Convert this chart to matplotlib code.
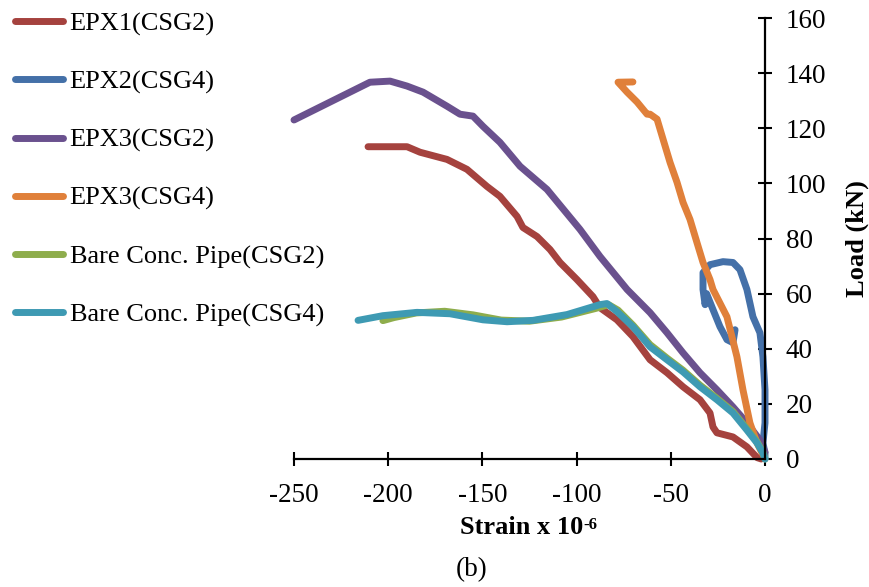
import matplotlib
matplotlib.use("Agg")
import matplotlib.pyplot as plt

plt.rcParams['font.family'] = ['Liberation Serif', 'DejaVu Serif']

# ---------------- data (strain x1e-6, load kN) ----------------
epx1_csg2_x = [-210.7, -190.0, -183.1, -168.8, -158.2, -147.6, -140.7, -131.6, -128.5, -121.0,
               -114.1, -108.8, -99.8, -91.3, -87.6, -78.6, -70.1, -61.0, -52.0, -43.5, -34.5,
               -29.2, -27.6, -25.5, -17.0, -9.6, -4.2, -2.0]
epx1_csg2_y = [113.3, 113.3, 111.3, 108.7, 105.1, 98.9, 95.3, 88.0, 84.0, 80.7,
               76.0, 71.3, 65.1, 58.9, 54.9, 50.5, 44.4, 36.0, 31.3, 26.2, 21.5,
               16.7, 11.6, 9.5, 8.0, 4.4, 0.5, 0.0]

epx2_csg4_x = [0.0, 0.0, -1.1, 0.0, 0.0, -1.1, -2.7, -6.4, -9.6, -13.3, -17.0, -22.3, -29.2,
               -32.9, -32.9, -31.8, -31.0, -27.6, -23.9, -20.2, -17.0, -15.9]
epx2_csg4_y = [0.0, 2.2, 5.8, 13.1, 25.1, 37.1, 45.8, 51.6, 61.5, 68.7, 71.3, 71.6, 70.5,
               67.6, 61.5, 56.0, 60.0, 54.2, 48.0, 43.3, 42.2, 46.9]

epx3_csg2_x = [-250.0, -209.7, -199.0, -190.0, -181.5, -168.8, -161.9, -155.0, -149.7, -140.7,
               -130.0, -115.7, -98.2, -87.6, -73.2, -61.0, -52.0, -43.5, -34.5, -25.5, -17.0,
               -9.6, -2.7, 0.0]
epx3_csg2_y = [123.0, 136.7, 137.1, 135.3, 133.1, 128.0, 125.1, 124.4, 120.7, 114.9,
               106.2, 97.8, 83.3, 73.5, 61.5, 53.1, 45.8, 38.5, 31.3, 25.1, 18.9,
               13.1, 6.9, 2.5]

epx3_csg4_x = [-70.1, -78.0, -73.2, -67.9, -62.6, -61.0, -57.3, -54.1, -50.4, -46.7, -43.5,
               -39.8, -36.1, -32.9, -29.2, -27.6, -20.2, -14.9, -11.7, -8.0, -4.2, -1.6, -0.5]
epx3_csg4_y = [136.8, 136.7, 133.1, 129.5, 125.1, 125.1, 123.3, 116.0, 107.6, 100.4, 93.1,
               86.9, 78.5, 71.3, 65.1, 61.5, 51.6, 37.1, 25.1, 13.1, 5.8, 2.2, 1.0]

bare_csg2_x = [-202.8, -197.0, -185.0, -170.0, -155.0, -140.0, -125.0, -108.0, -90.0, -83.0,
               -78.0, -70.0, -61.0, -52.0, -43.5, -34.5, -25.5, -17.0, -9.6, -4.2, -1.1, 0.0]
bare_csg2_y = [50.2, 51.3, 53.0, 53.6, 52.3, 50.4, 50.0, 51.5, 54.6, 56.0,
               54.0, 48.5, 41.5, 36.6, 32.2, 26.8, 22.0, 17.2, 11.0, 6.2, 2.4, 0.0]

bare_csg4_x = [-216.0, -202.8, -184.7, -167.2, -149.7, -136.9, -123.1, -105.1, -87.6, -83.9,
               -78.6, -70.1, -61.0, -52.0, -43.5, -34.5, -25.5, -17.0, -9.6, -4.2, -1.1, 0.0]
bare_csg4_y = [50.3, 52.0, 53.2, 52.7, 50.5, 49.8, 50.3, 52.4, 56.0, 56.4,
               53.5, 48.0, 40.7, 36.0, 31.6, 26.2, 21.5, 16.7, 10.5, 5.8, 2.2, 0.0]

series_names = ["EPX1(CSG2)", "EPX2(CSG4)", "EPX3(CSG2)", "EPX3(CSG4)",
                "Bare Conc. Pipe(CSG2)", "Bare Conc. Pipe(CSG4)"]
series_colors = ["#A5423E", "#4470A8", "#6A518E", "#E0803A", "#8EAD4C", "#3E9AB3"]

x_ticks = [-250, -200, -150, -100, -50, 0]
y_ticks = [0, 20, 40, 60, 80, 100, 120, 140, 160]

# ---------------- figure ----------------
fig = plt.figure(figsize=(8.7, 5.87), dpi=100)
ax = fig.add_axes([294/870, 1-459/587, (765-294)/870, (459-18)/587])

data = [(epx1_csg2_x, epx1_csg2_y), (epx2_csg4_x, epx2_csg4_y), (epx3_csg2_x, epx3_csg2_y),
        (epx3_csg4_x, epx3_csg4_y), (bare_csg2_x, bare_csg2_y), (bare_csg4_x, bare_csg4_y)]
for (xs, ys), name, col in zip(data, series_names, series_colors):
    ax.plot(xs, ys, color=col, lw=5, label=name, solid_capstyle='round',
            solid_joinstyle='round', clip_on=False)

ax.set_xlim(-250, 0)
ax.set_ylim(0, 160)
ax.set_xticks(x_ticks)
ax.set_yticks(y_ticks)
ax.set_xticklabels([str(v) for v in x_ticks])
ax.set_yticklabels([str(v) for v in y_ticks])

for s in ['top', 'left']:
    ax.spines[s].set_visible(False)
for s in ['right', 'bottom']:
    ax.spines[s].set_linewidth(1.6)
    ax.spines[s].set_color('black')

ax.yaxis.tick_right()
ax.yaxis.set_label_position('right')
ax.tick_params(axis='both', direction='inout', length=10, width=1.5, labelsize=19.5, colors='black')
ax.tick_params(axis='y', pad=10)
ax.tick_params(axis='x', pad=12)

ax.set_ylabel("Load (kN)", fontsize=19, fontweight='bold', labelpad=14)

t = fig.text(522/870, 1-534/587, "Strain x 10", ha='center', va='baseline',
             fontsize=19, fontweight='bold')
ax.annotate("-6", xy=(1.0, 1.0), xycoords=t, xytext=(0, -0.5), textcoords='offset points',
            ha='left', va='top', fontsize=12, fontweight='bold', annotation_clip=False)

fig.text(472/870, 1-576/587, "(b)", ha='center', va='baseline', fontsize=19.5)

leg = ax.legend(loc='upper left', bbox_to_anchor=(15/870, 1-12/587), bbox_transform=fig.transFigure,
                frameon=False, fontsize=19, handlelength=1.82, handletextpad=0.25,
                labelspacing=1.3, borderpad=0, borderaxespad=0)
for h in leg.get_lines():
    h.set_solid_capstyle('round')

fig.savefig("out.png", dpi=100)
